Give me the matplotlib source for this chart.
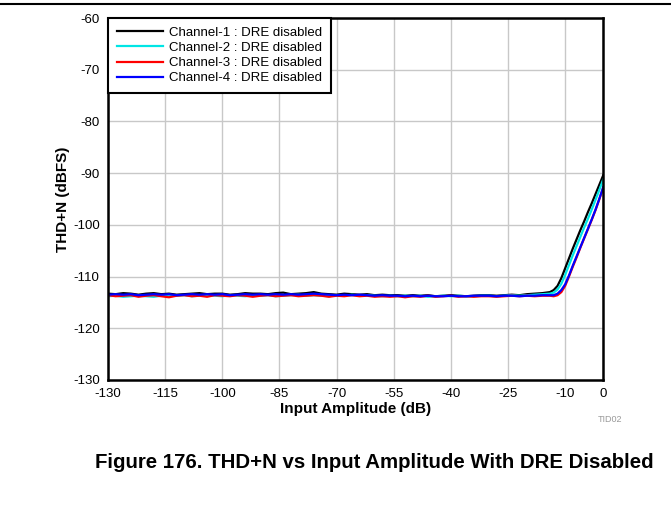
import matplotlib.pyplot as plt
from matplotlib.lines import Line2D
import numpy as np

plt.rcParams['font.family'] = ['Liberation Sans', 'DejaVu Sans']
plt.rcParams['axes.unicode_minus'] = False

# input amplitude (dB): 2 dB steps on the flat part, 1 dB steps near full scale
x_flat = list(range(-130, -13, 2))
x_rise = list(range(-13, 1))
x_vals = np.array(x_flat + x_rise)

ch1_flat = [-113.3, -113.4, -113.2, -113.3, -113.5, -113.3, -113.2, -113.4, -113.3, -113.5,
            -113.4, -113.3, -113.2, -113.4, -113.3, -113.3, -113.5, -113.4, -113.2, -113.3,
            -113.3, -113.4, -113.2, -113.1, -113.4, -113.3, -113.2, -113.0, -113.3, -113.4,
            -113.5, -113.3, -113.4, -113.5, -113.4, -113.6, -113.5, -113.6, -113.6, -113.7,
            -113.6, -113.7, -113.6, -113.8, -113.7, -113.6, -113.7, -113.8, -113.7, -113.6,
            -113.6, -113.7, -113.6, -113.5, -113.6, -113.4, -113.3, -113.2, -113.0]
ch1_rise = [-112.6, -111.8, -110.3, -108.4, -106.5, -104.6, -102.8,
            -101.0, -99.3, -97.5, -95.8, -94.0, -92.2, -90.4]

ch2_flat = [-113.8, -113.7, -113.9, -113.8, -113.7, -113.8, -113.9, -113.7, -113.8, -113.7,
            -113.6, -113.8, -113.7, -113.6, -113.7, -113.8, -113.6, -113.7, -113.8, -113.6,
            -113.7, -113.6, -113.8, -113.7, -113.6, -113.5, -113.7, -113.6, -113.7, -113.8,
            -113.6, -113.7, -113.5, -113.7, -113.6, -113.7, -113.8, -113.7, -113.8, -113.7,
            -113.8, -113.7, -113.9, -113.8, -113.7, -113.8, -113.7, -113.8, -113.8, -113.7,
            -113.7, -113.8, -113.7, -113.6, -113.7, -113.6, -113.5, -113.4, -113.3]
ch2_rise = [-113.1, -112.5, -111.4, -109.7, -107.8, -105.9, -104.1,
            -102.3, -100.5, -98.8, -97.0, -95.1, -93.2, -91.2]

ch3_flat = [-113.6, -113.8, -113.7, -113.6, -113.9, -113.7, -113.6, -113.8, -114.0, -113.7,
            -113.6, -113.8, -113.7, -113.9, -113.6, -113.7, -113.8, -113.6, -113.7, -113.9,
            -113.7, -113.6, -113.8, -113.7, -113.6, -113.8, -113.7, -113.6, -113.7, -113.9,
            -113.7, -113.8, -113.6, -113.8, -113.7, -113.9, -113.8, -113.9, -113.8, -114.0,
            -113.8, -113.9, -113.7, -113.9, -113.8, -113.7, -113.9, -113.8, -113.9, -113.8,
            -113.8, -113.9, -113.8, -113.7, -113.8, -113.7, -113.8, -113.7, -113.7]
ch3_rise = [-113.8, -113.6, -113.0, -111.8, -110.0, -108.1, -106.3,
            -104.4, -102.6, -100.8, -99.0, -97.1, -95.0, -92.8]

ch4_flat = [-113.5, -113.4, -113.5, -113.4, -113.6, -113.5, -113.4, -113.5, -113.4, -113.6,
            -113.5, -113.4, -113.5, -113.4, -113.5, -113.4, -113.6, -113.5, -113.4, -113.5,
            -113.4, -113.5, -113.4, -113.5, -113.4, -113.5, -113.4, -113.3, -113.4, -113.5,
            -113.6, -113.5, -113.6, -113.5, -113.6, -113.7, -113.6, -113.7, -113.7, -113.8,
            -113.7, -113.8, -113.7, -113.8, -113.8, -113.7, -113.8, -113.8, -113.7, -113.7,
            -113.7, -113.8, -113.7, -113.7, -113.8, -113.7, -113.7, -113.6, -113.6]
ch4_rise = [-113.6, -113.3, -112.6, -111.5, -109.8, -107.9, -106.1,
            -104.3, -102.5, -100.7, -98.9, -97.0, -94.9, -92.7]

series = [
    ("Channel-1 : DRE disabled", ch1_flat + ch1_rise, "black"),
    ("Channel-2 : DRE disabled", ch2_flat + ch2_rise, "#00e5e5"),
    ("Channel-3 : DRE disabled", ch3_flat + ch3_rise, "red"),
    ("Channel-4 : DRE disabled", ch4_flat + ch4_rise, "blue"),
]

x_ticks = [-130, -115, -100, -85, -70, -55, -40, -25, -10, 0]
y_ticks = [-130, -120, -110, -100, -90, -80, -70, -60]

fig = plt.figure(figsize=(6.71, 5.17), dpi=100)
ax = fig.add_axes([0.161, 0.265, 0.738, 0.700])

for label, vals, color in series:
    ax.plot(x_vals, vals, color=color, lw=1.6, label=label)

ax.set_xlim(-130, 0)
ax.set_ylim(-130, -60)
ax.set_xticks(x_ticks)
ax.set_yticks(y_ticks)
ax.tick_params(length=0, labelsize=9.5, pad=6)
ax.grid(True, color="#c8c8c8", lw=1)
ax.set_axisbelow(True)
for sp in ax.spines.values():
    sp.set_linewidth(1.8)

ax.set_xlabel("Input Amplitude (dB)", fontsize=11, fontweight="bold", labelpad=1)
ax.set_ylabel("THD+N (dBFS)", fontsize=11, fontweight="bold", labelpad=2)

leg = ax.legend(loc="upper left", borderaxespad=0, fontsize=9.5, fancybox=False,
                handlelength=3.5, handletextpad=0.5, labelspacing=0.22,
                borderpad=0.65, framealpha=1)
leg.get_frame().set_edgecolor("black")
leg.get_frame().set_linewidth(1.5)

fig.add_artist(Line2D([0, 1], [1 - 4 / 517, 1 - 4 / 517], color="black", lw=1.5))
fig.text(598 / 671, 1 - 419 / 517, "TID02", fontsize=6.5, color="#999999", va="center")
fig.text(374 / 671, 1 - 462 / 517, "Figure 176. THD+N vs Input Amplitude With DRE Disabled",
         fontsize=14.7, fontweight="bold", ha="center", va="center")

fig.savefig("out.png", dpi=100)
